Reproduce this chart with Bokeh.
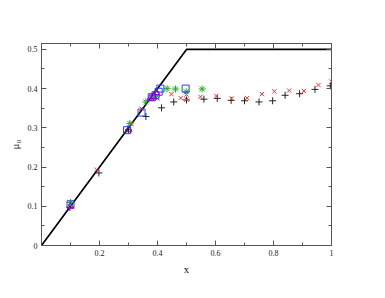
from bokeh.plotting import figure
from bokeh.models import LinearAxis, FixedTicker, Range1d
from bokeh.embed import file_html
from bokeh.resources import INLINE

# theory line
line_x = [0.0, 0.5, 1.0]
line_y = [0.0, 0.5, 0.5]

plus_x = [0.098, 0.198, 0.30, 0.36, 0.414, 0.456, 0.50, 0.56, 0.606, 0.654, 0.70, 0.75, 0.797, 0.84, 0.89, 0.943, 0.996]
plus_y = [0.097, 0.185, 0.295, 0.329, 0.351, 0.366, 0.371, 0.373, 0.375, 0.370, 0.369, 0.366, 0.369, 0.383, 0.387, 0.398, 0.407]

cross_x = [0.10, 0.19, 0.31, 0.345, 0.38, 0.40, 0.448, 0.48, 0.50, 0.50, 0.548, 0.603, 0.656, 0.709, 0.76, 0.803, 0.854, 0.905, 0.955, 1.0]
cross_y = [0.105, 0.193, 0.31, 0.349, 0.373, 0.375, 0.386, 0.376, 0.385, 0.372, 0.379, 0.381, 0.375, 0.376, 0.386, 0.393, 0.395, 0.394, 0.409, 0.418]

star_x = [0.10, 0.305, 0.36, 0.39, 0.433, 0.462, 0.499, 0.554]
star_y = [0.11, 0.311, 0.366, 0.38, 0.40, 0.399, 0.392, 0.399]

square_x = [0.10, 0.295, 0.345, 0.38, 0.393, 0.404, 0.41, 0.497]
square_y = [0.105, 0.294, 0.339, 0.378, 0.383, 0.392, 0.40, 0.40]

tri_x = [0.10, 0.30, 0.375, 0.385, 0.395]
tri_y = [0.10, 0.295, 0.375, 0.38, 0.39]

x_ticks = [0.2, 0.4, 0.6, 0.8, 1.0]
x_minor = [0.1, 0.3, 0.5, 0.7, 0.9]
y_ticks = [0.0, 0.1, 0.2, 0.3, 0.4, 0.5]
y_minor = [0.05, 0.15, 0.25, 0.35, 0.45]

FONT = "Liberation Serif"

p = figure(frame_width=290, frame_height=202, output_backend="svg", toolbar_location=None,
           x_range=Range1d(0, 1), y_range=Range1d(0, 0.515),
           x_axis_label="x", y_axis_label="μ₀",
           min_border_left=41, min_border_right=36, min_border_top=43, min_border_bottom=37)
p.grid.visible = False
p.outline_line_color = "#555555"
p.background_fill_color = "white"
p.border_fill_color = "white"

def style(ax, ticks, minor, labels=True):
    ax.ticker = FixedTicker(ticks=ticks, minor_ticks=minor)
    ax.major_tick_in = 5
    ax.major_tick_out = 0
    ax.minor_tick_in = 3
    ax.minor_tick_out = 0
    ax.axis_line_color = "#555555"
    ax.major_tick_line_color = "#555555"
    ax.minor_tick_line_color = "#555555"
    ax.major_label_text_font = FONT
    ax.major_label_text_font_size = "8px"
    ax.major_label_text_color = "#222222"
    ax.major_label_standoff = 4
    ax.axis_label_text_font = FONT
    ax.axis_label_text_font_size = "11px"
    ax.axis_label_text_font_style = "normal"
    ax.axis_label_text_color = "#111111"
    ax.axis_label_standoff = 4
    if not labels:
        ax.major_label_overrides = {t: "" for t in ticks}

style(p.xaxis[0], x_ticks, x_minor)
style(p.yaxis[0], y_ticks, y_minor)
p.xaxis[0].major_label_overrides = {1.0: "1"}
p.yaxis[0].major_label_overrides = {0.0: "0"}
p.xaxis[0].axis_label_standoff = 4
p.yaxis[0].axis_label_standoff = 4

top = LinearAxis()
style(top, x_ticks, x_minor, labels=False)
p.add_layout(top, "above")
right = LinearAxis()
style(right, y_ticks, y_minor, labels=False)
p.add_layout(right, "right")

p.line(line_x, line_y, line_color="black", line_width=1.7)

p.scatter(plus_x, plus_y, marker="cross", size=7, line_color="#222222", line_width=1)
p.scatter(cross_x, cross_y, marker="x", size=6, line_color="#ff3030", line_width=1)
p.scatter(star_x, star_y, marker="asterisk", size=7, line_color="#20b020", line_width=1)
p.scatter(square_x, square_y, marker="square", size=7, line_color="#2040ff", fill_color=None, line_width=1)
p.scatter(tri_x, tri_y, marker="triangle", size=7, line_color="#9400d3", fill_color=None, line_width=1)

open("out.html", "w").write(file_html(p, INLINE))
